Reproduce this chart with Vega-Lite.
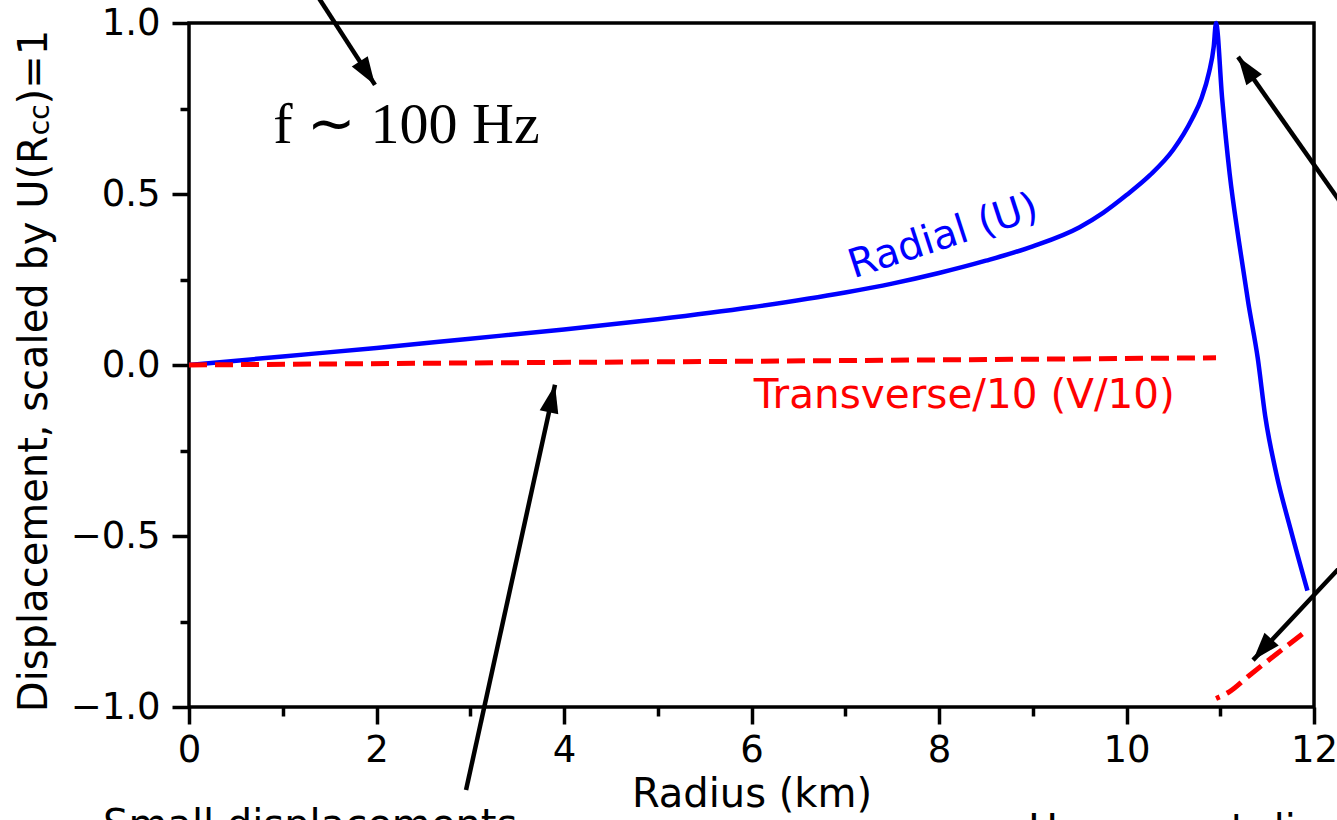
{
  "$schema": "https://vega.github.io/schema/vega-lite/v6.json",
  "width": 1125,
  "height": 684,
  "autosize": {"type": "none"},
  "padding": {"left": 189, "top": 23, "right": 23, "bottom": 113},
  "background": "white",
  "config": {
    "font": "DejaVu Sans",
    "view": {"stroke": "black", "strokeWidth": 3.5},
    "axis": {"labelColor": "black", "tickColor": "black", "titleColor": "black", "labelFont": "DejaVu Sans", "titleFont": "DejaVu Sans", "grid": false, "domain": false}
  },
  "datasets": {
    "radial": [
      {"r": 0, "d": 0}, {"r": 1, "d": 0.025}, {"r": 2, "d": 0.05}, {"r": 3, "d": 0.077},
      {"r": 4, "d": 0.104}, {"r": 5, "d": 0.134}, {"r": 6, "d": 0.169}, {"r": 7, "d": 0.212},
      {"r": 7.5, "d": 0.238}, {"r": 8, "d": 0.269}, {"r": 8.5, "d": 0.305}, {"r": 9, "d": 0.347},
      {"r": 9.5, "d": 0.403}, {"r": 9.75, "d": 0.445}, {"r": 10, "d": 0.497}, {"r": 10.25, "d": 0.555},
      {"r": 10.5, "d": 0.63}, {"r": 10.7, "d": 0.72}, {"r": 10.8, "d": 0.78}, {"r": 10.88, "d": 0.855},
      {"r": 10.93, "d": 0.93}, {"r": 10.955, "d": 1.0}, {"r": 11.02, "d": 0.78}, {"r": 11.1, "d": 0.56},
      {"r": 11.2, "d": 0.36}, {"r": 11.3, "d": 0.18}, {"r": 11.4, "d": 0.02}, {"r": 11.48, "d": -0.15},
      {"r": 11.6, "d": -0.32}, {"r": 11.75, "d": -0.48}, {"r": 11.93, "d": -0.66}
    ],
    "transverseCore": [
      {"r": 0, "d": 0}, {"r": 3, "d": 0.006}, {"r": 6, "d": 0.011}, {"r": 9, "d": 0.017}, {"r": 10.955, "d": 0.021}
    ],
    "transverseCrust": [
      {"r": 10.955, "d": -0.975}, {"r": 11.1, "d": -0.955}, {"r": 11.3, "d": -0.91}, {"r": 11.6, "d": -0.845}, {"r": 11.93, "d": -0.775}
    ],
    "arrows": [
      {"arrow": "freq", "tail_r": 1.104, "tail_d": 1.192, "tip_r": 1.984, "tip_d": 0.819},
      {"arrow": "interface", "tail_r": 12.7, "tail_d": 0.313, "tip_r": 11.19, "tip_d": 0.901},
      {"arrow": "crust", "tail_r": 12.7, "tail_d": -0.468, "tip_r": 11.35, "tip_d": -0.863},
      {"arrow": "core", "tail_r": 2.955, "tail_d": -1.243, "tip_r": 3.904, "tip_d": -0.058}
    ],
    "ylabel": [
      {"part": "main", "r": -1.515, "d": -1.015, "text": "Displacement, scaled by U(R"},
      {"part": "sub", "r": -1.493, "d": 0.672, "text": "cc"},
      {"part": "tail", "r": -1.515, "d": 0.762, "text": ")=1"}
    ],
    "notes": [
      {"r": -0.917, "d": -1.383, "text": "Small displacements"},
      {"r": 8.95, "d": -1.398, "text": "Huge crust displacements"}
    ]
  },
  "layer": [
    {
      "data": {"name": "radial"},
      "mark": {"type": "line", "color": "#0000ff", "strokeWidth": 4.5, "interpolate": "monotone"},
      "encoding": {
        "x": {"field": "r", "type": "quantitative", "scale": {"domain": [0, 12], "nice": false, "zero": false},
          "axis": {"orient": "bottom", "values": [0, 2, 4, 6, 8, 10, 12], "tickSize": 17, "tickWidth": 3.5,
            "labelFontSize": 37, "labelPadding": 8, "labelFlush": false, "labelOverlap": false,
            "title": "Radius (km)", "titleFontSize": 40, "titleFontWeight": "normal", "titlePadding": 6}},
        "y": {"field": "d", "type": "quantitative", "scale": {"domain": [-1, 1], "nice": false, "zero": false},
          "axis": {"orient": "left", "values": [-1, -0.5, 0, 0.5, 1], "format": ".1f", "tickSize": 17, "tickWidth": 3.5,
            "labelFontSize": 37, "labelPadding": 12, "labelFlush": false, "labelOverlap": false, "title": null}}
      }
    },
    {
      "data": {"name": "transverseCore"},
      "mark": {"type": "line", "color": "#ff0000", "strokeWidth": 5, "strokeDash": [18, 8]},
      "encoding": {
        "x": {"field": "r", "type": "quantitative",
          "axis": {"orient": "bottom", "values": [1, 3, 5, 7, 9, 11], "tickSize": 9, "tickWidth": 3.5, "labels": false, "title": null}},
        "y": {"field": "d", "type": "quantitative",
          "axis": {"orient": "left", "values": [-0.75, -0.25, 0.25, 0.75], "tickSize": 9, "tickWidth": 3.5, "labels": false, "title": null}}
      }
    },
    {
      "data": {"name": "transverseCrust"},
      "mark": {"type": "line", "color": "#ff0000", "strokeWidth": 5, "strokeDash": [18, 8], "strokeDashOffset": 14, "interpolate": "monotone"},
      "encoding": {
        "x": {"field": "r", "type": "quantitative", "axis": null},
        "y": {"field": "d", "type": "quantitative", "axis": null}
      }
    },
    {
      "data": {"name": "arrows"},
      "mark": {"type": "rule", "color": "black", "strokeWidth": 4.5},
      "encoding": {
        "x": {"field": "tail_r", "type": "quantitative", "axis": null},
        "y": {"field": "tail_d", "type": "quantitative", "axis": null},
        "x2": {"field": "tip_r"},
        "y2": {"field": "tip_d"}
      }
    },
    {
      "data": {"name": "arrows"},
      "transform": [{"filter": "datum.arrow === 'freq'"}],
      "mark": {"type": "point", "shape": "M0,0L0.34,1L-0.34,1Z", "size": 3136, "filled": true, "color": "black", "opacity": 1, "angle": 147},
      "encoding": {"x": {"field": "tip_r", "type": "quantitative", "axis": null}, "y": {"field": "tip_d", "type": "quantitative", "axis": null}}
    },
    {
      "data": {"name": "arrows"},
      "transform": [{"filter": "datum.arrow === 'interface'"}],
      "mark": {"type": "point", "shape": "M0,0L0.34,1L-0.34,1Z", "size": 3136, "filled": true, "color": "black", "opacity": 1, "angle": -35},
      "encoding": {"x": {"field": "tip_r", "type": "quantitative", "axis": null}, "y": {"field": "tip_d", "type": "quantitative", "axis": null}}
    },
    {
      "data": {"name": "arrows"},
      "transform": [{"filter": "datum.arrow === 'crust'"}],
      "mark": {"type": "point", "shape": "M0,0L0.34,1L-0.34,1Z", "size": 3136, "filled": true, "color": "black", "opacity": 1, "angle": 221.5},
      "encoding": {"x": {"field": "tip_r", "type": "quantitative", "axis": null}, "y": {"field": "tip_d", "type": "quantitative", "axis": null}}
    },
    {
      "data": {"name": "arrows"},
      "transform": [{"filter": "datum.arrow === 'core'"}],
      "mark": {"type": "point", "shape": "M0,0L0.34,1L-0.34,1Z", "size": 3136, "filled": true, "color": "black", "opacity": 1, "angle": 12.4},
      "encoding": {"x": {"field": "tip_r", "type": "quantitative", "axis": null}, "y": {"field": "tip_d", "type": "quantitative", "axis": null}}
    },
    {
      "data": {"values": [{"r": 2.32, "d": 0.649, "text": "f ∼ 100 Hz"}]},
      "mark": {"type": "text", "font": "Liberation Serif", "fontSize": 58, "align": "center", "baseline": "alphabetic", "color": "black"},
      "encoding": {"x": {"field": "r", "type": "quantitative", "axis": null}, "y": {"field": "d", "type": "quantitative", "axis": null}, "text": {"field": "text"}}
    },
    {
      "data": {"values": [{"r": 8.085, "d": 0.342, "text": "Radial (U)"}]},
      "mark": {"type": "text", "fontSize": 40, "align": "center", "baseline": "alphabetic", "color": "#0000ff", "angle": -18},
      "encoding": {"x": {"field": "r", "type": "quantitative", "axis": null}, "y": {"field": "d", "type": "quantitative", "axis": null}, "text": {"field": "text"}}
    },
    {
      "data": {"values": [{"r": 8.27, "d": -0.1257, "text": "Transverse/10 (V/10)"}]},
      "mark": {"type": "text", "fontSize": 40.5, "align": "center", "baseline": "alphabetic", "color": "#ff0000"},
      "encoding": {"x": {"field": "r", "type": "quantitative", "axis": null}, "y": {"field": "d", "type": "quantitative", "axis": null}, "text": {"field": "text"}}
    },
    {
      "data": {"name": "ylabel"},
      "transform": [{"filter": "datum.part !== 'sub'"}],
      "mark": {"type": "text", "fontSize": 40, "align": "left", "baseline": "alphabetic", "color": "black", "angle": -90},
      "encoding": {"x": {"field": "r", "type": "quantitative", "axis": null}, "y": {"field": "d", "type": "quantitative", "axis": null}, "text": {"field": "text"}}
    },
    {
      "data": {"name": "ylabel"},
      "transform": [{"filter": "datum.part === 'sub'"}],
      "mark": {"type": "text", "fontSize": 28, "align": "left", "baseline": "alphabetic", "color": "black", "angle": -90},
      "encoding": {"x": {"field": "r", "type": "quantitative", "axis": null}, "y": {"field": "d", "type": "quantitative", "axis": null}, "text": {"field": "text"}}
    },
    {
      "data": {"name": "notes"},
      "mark": {"type": "text", "fontSize": 40, "align": "left", "baseline": "alphabetic", "color": "black"},
      "encoding": {"x": {"field": "r", "type": "quantitative", "axis": null}, "y": {"field": "d", "type": "quantitative", "axis": null}, "text": {"field": "text"}}
    }
  ],
  "resolve": {"axis": {"x": "independent", "y": "independent"}}
}
